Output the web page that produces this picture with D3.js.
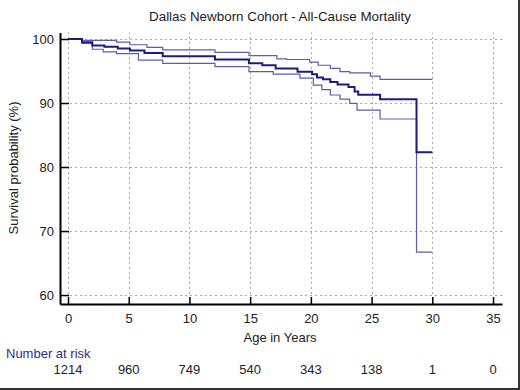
<!DOCTYPE html>
<html><head><meta charset="utf-8">
<script src="https://cdn.jsdelivr.net/npm/d3@7"></script>
<style>body{margin:0;background:#fff;}svg{display:block;font-family:Arial,"Liberation Sans",sans-serif;}</style>
</head><body>
<svg id="c" width="520" height="390"></svg>
<script>
const title = "Dallas Newborn Cohort - All-Cause Mortality";
const xTicks = [0,5,10,15,20,25,30,35];
const yTicks = [60,70,80,90,100];
const riskTimes = [0,5,10,15,20,25,30,35];
const riskCounts = [1214,960,749,540,343,138,1,0];

// Kaplan-Meier estimate (time, survival %)
const kmTimes = [0,1.15,2.0,3.0,4.1,5.1,6.3,7.8,12.1,14.9,16.0,17.1,18.9,20.1,20.5,21.0,21.6,22.2,23.1,23.6,23.9,25.7,28.7,30];
const kmSurv  = [100,99.5,99.0,98.8,98.5,98.2,97.8,97.3,96.8,96.2,95.9,95.4,94.9,94.5,94.0,93.7,93.3,92.9,92.5,91.8,91.3,90.6,82.3,82.3];
// upper 95% CI
const upTimes = [0,1.15,4.0,5.1,6.5,7.8,12.1,14.9,17.2,18.0,19.9,20.6,21.6,22.4,23.2,24.9,25.7,30];
const upSurv  = [100,99.8,99.5,99.1,98.7,98.3,97.9,97.4,96.9,96.8,96.4,95.9,95.4,94.9,94.7,94.2,93.7,93.7];
// lower 95% CI
const loTimes = [0,1.15,2.0,2.9,4.0,5.8,7.8,12.1,14.9,16.9,19.1,20.2,20.9,21.6,22.4,23.2,23.8,25.7,28.7,30];
const loSurv  = [100,99.3,98.4,98.0,97.7,96.7,96.2,95.7,94.9,94.5,93.9,92.8,92.1,91.25,90.6,89.95,88.9,87.5,66.7,66.7];

const svg = d3.select("#c");
const x = d3.scaleLinear().domain([-0.66, 35.74]).range([60, 502]);
const y = d3.scaleLinear().domain([58.6, 101]).range([304, 32.6]);

// border (right/bottom)
svg.append("line").attr("x1",519).attr("x2",519).attr("y1",0).attr("y2",390).attr("stroke","#333").attr("stroke-width",2);
svg.append("line").attr("x1",0).attr("x2",520).attr("y1",389).attr("y2",389).attr("stroke","#333").attr("stroke-width",2);

// grid
const grid = svg.append("g").attr("stroke","#a8a8a8").attr("stroke-width",1).attr("stroke-dasharray","2,3");
grid.selectAll("line.v").data(xTicks).join("line").attr("class","v")
  .attr("x1",d=>Math.round(x(d))+0.5).attr("x2",d=>Math.round(x(d))+0.5).attr("y1",y(58.6)).attr("y2",y(101));
grid.selectAll("line.h").data(yTicks).join("line").attr("class","h")
  .attr("y1",d=>Math.round(y(d))+0.5).attr("y2",d=>Math.round(y(d))+0.5).attr("x1",x(-0.66)).attr("x2",x(35.74));

// curves
const line = d3.line().x(d=>x(d[0])).y(d=>y(d[1])).curve(d3.curveStepAfter);
const zip = (a,b)=>a.map((t,i)=>[t,b[i]]);
svg.append("path").attr("d",line(zip(upTimes,upSurv))).attr("fill","none").attr("stroke","#5c5cab").attr("stroke-width",1.2);
svg.append("path").attr("d",line(zip(loTimes,loSurv))).attr("fill","none").attr("stroke","#5c5cab").attr("stroke-width",1.2);
svg.append("path").attr("d",line(zip(kmTimes,kmSurv))).attr("fill","none").attr("stroke","#1c1c84").attr("stroke-width",2);

// axes
const ax = svg.append("g").attr("transform","translate(0,304)")
  .call(d3.axisBottom(x).tickValues(xTicks).tickSizeInner(-7).tickSizeOuter(0).tickPadding(10));
const ay = svg.append("g").attr("transform","translate(60,0)")
  .call(d3.axisLeft(y).tickValues(yTicks).tickSizeInner(-9).tickSizeOuter(0).tickPadding(6));
[ax,ay].forEach(a=>{
  a.select(".domain").attr("stroke","#000").attr("stroke-width",2);
  a.selectAll(".tick line").attr("stroke","#000").attr("stroke-width",1.5);
  a.selectAll("text").attr("fill","#222").attr("font-size",13).attr("font-family","Arial, 'Liberation Sans', sans-serif");
});

// title & labels
svg.append("text").attr("x",280).attr("y",21).attr("text-anchor","middle").attr("font-size",13.4).attr("fill","#222").text(title);
svg.append("text").attr("x",280).attr("y",342).attr("text-anchor","middle").attr("font-size",13).attr("fill","#222").text("Age in Years");
svg.append("text").attr("transform","translate(18,168) rotate(-90)").attr("text-anchor","middle").attr("font-size",13).attr("fill","#222").text("Survival probability (%)");

// number at risk
svg.append("text").attr("x",6).attr("y",358).attr("font-size",13).attr("fill","#2d2d8c").text("Number at risk");
svg.selectAll("text.risk").data(riskCounts).join("text").attr("class","risk")
  .attr("x",(d,i)=>x(riskTimes[i])).attr("y",374).attr("text-anchor","middle").attr("font-size",13).attr("fill","#222").text(d=>d);
</script>
</body></html>
